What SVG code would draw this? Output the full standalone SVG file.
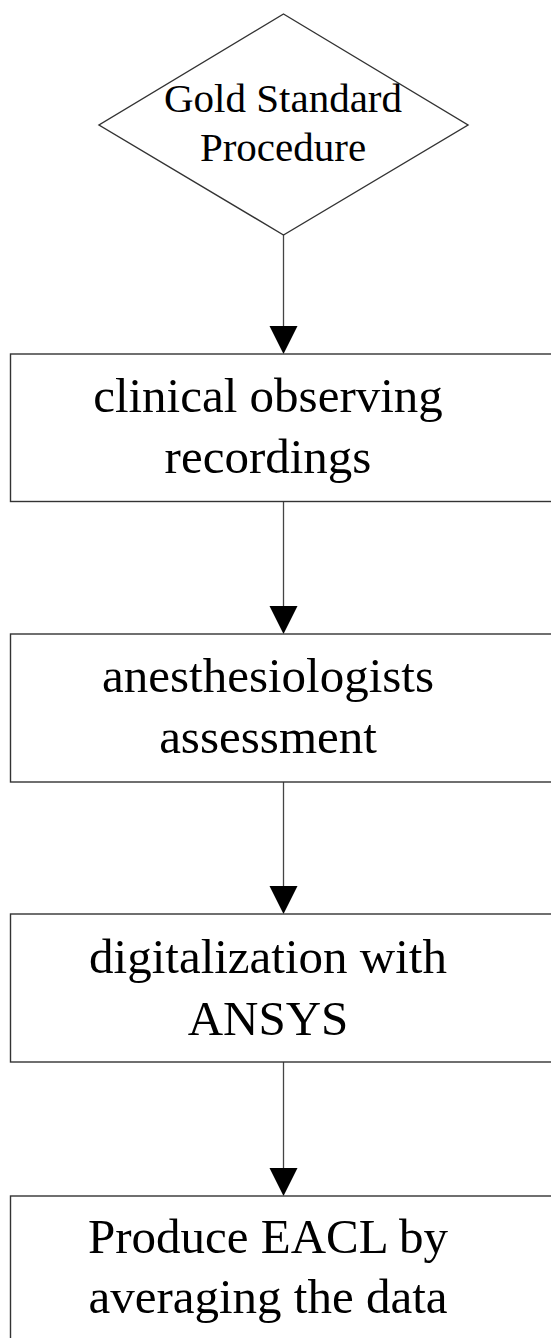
<svg xmlns="http://www.w3.org/2000/svg" width="551" height="1338" viewBox="0 0 551 1338">
  <style>
    .shape { fill: #ffffff; stroke: #333333; stroke-width: 1.4; }
    .label { font-family: "Liberation Serif", "Times New Roman", serif; fill: #000000; text-anchor: middle; }
    .big { font-size: 49px; }
    .small { font-size: 41px; }
    .wire { stroke: #444444; stroke-width: 1.3; fill: none; }
    .head { fill: #000000; }
  </style>
  <rect width="551" height="1338" fill="#ffffff"/>

  <!-- connectors -->
  <g id="connectors">
    <line class="wire" x1="283.5" y1="235" x2="283.5" y2="330"/>
    <polygon class="head" points="269.5,326 297.5,326 283.5,354"/>
    <line class="wire" x1="283.5" y1="501.5" x2="283.5" y2="610"/>
    <polygon class="head" points="269.5,606 297.5,606 283.5,634"/>
    <line class="wire" x1="283.5" y1="782" x2="283.5" y2="890"/>
    <polygon class="head" points="269.5,886 297.5,886 283.5,914"/>
    <line class="wire" x1="283.5" y1="1062" x2="283.5" y2="1172"/>
    <polygon class="head" points="269.5,1168 297.5,1168 283.5,1196"/>
  </g>

  <!-- start decision -->
  <g id="gold-standard">
    <polygon class="shape" points="283.5,14 468,125 283.5,235 99,125" stroke-width="1.1"/>
    <text class="label small" x="283" y="112">Gold Standard</text>
    <text class="label small" x="283" y="161">Procedure</text>
  </g>

  <g id="clinical-observing">
    <rect class="shape" x="10.5" y="354" width="560" height="147.5"/>
    <text class="label big" x="268" y="412">clinical observing</text>
    <text class="label big" x="268" y="473">recordings</text>
  </g>

  <g id="anesthesiologists">
    <rect class="shape" x="10.5" y="634" width="560" height="148"/>
    <text class="label big" x="268" y="692">anesthesiologists</text>
    <text class="label big" x="268" y="753">assessment</text>
  </g>

  <g id="digitalization">
    <rect class="shape" x="10.5" y="914" width="560" height="148"/>
    <text class="label big" x="268" y="973">digitalization with</text>
    <text class="label big" x="268" y="1035">ANSYS</text>
  </g>

  <g id="produce-eacl">
    <rect class="shape" x="10.5" y="1196" width="560" height="160"/>
    <text class="label big" x="268" y="1253">Produce EACL by</text>
    <text class="label big" x="268" y="1313">averaging the data</text>
  </g>
</svg>
